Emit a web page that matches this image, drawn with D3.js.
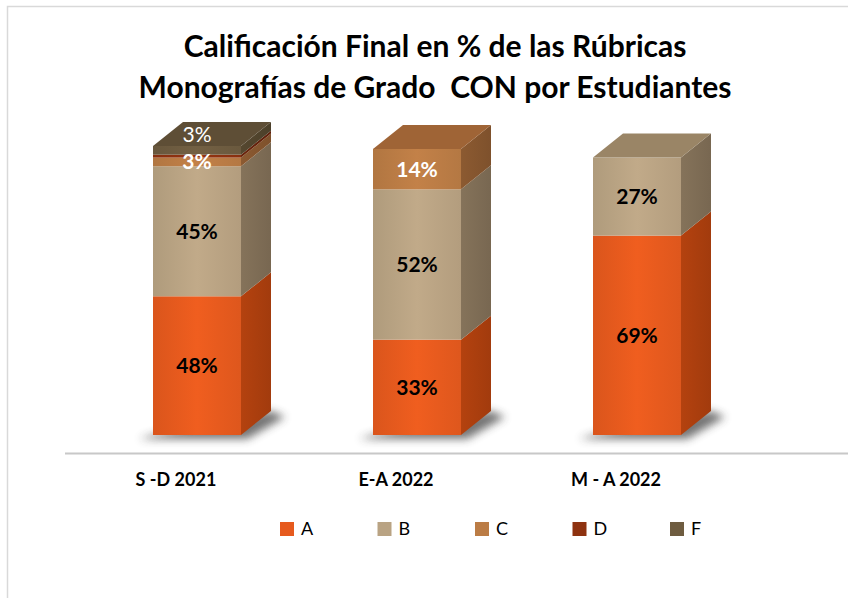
<!DOCTYPE html>
<html>
<head>
<meta charset="utf-8">
<script src="https://cdn.jsdelivr.net/npm/d3@7"></script>
<style>
  body { margin: 0; background: #fff; }
  svg { display: block; font-family: Lato, "Open Sans", sans-serif; }
</style>
</head>
<body>
<svg id="chart" width="848" height="598"></svg>
<script>
// data
var categories = ['S -D 2021', 'E-A 2022', 'M - A 2022'];
var seriesNames = ['A', 'B', 'C', 'D', 'F'];
var valuesA = [48, 33, 69];
var valuesB = [45, 52, 27];
var valuesC = [3, 14, 0];
var valuesD = [1, 0, 0];
var valuesF = [3, 0, 0];
var labelsShown = {A: [1, 1, 1], B: [1, 1, 1], C: [1, 1, 0], D: [0, 0, 0], F: [1, 0, 0]};

var colors = {
    A: {front: '#e65a1e', side: '#b4420f', top: '#c24c16'},
    B: {front: '#b9a383', side: '#85735a', top: '#9a8566'},
    C: {front: '#bb7c45', side: '#8c5a31', top: '#9f6436'},
    D: {front: '#8e3210', side: '#6a240b', top: '#7a2a0d'},
    F: {front: '#6e5c40', side: '#55472f', top: '#5e4e36'}
};
var labelColor = {A: '#000', B: '#000', C: '#fff', D: '#fff', F: '#fff'};
var labelWeight = {A: 'bold', B: 'bold', C: 'bold', D: 'bold', F: 'normal'};

var svg = d3.select('#chart');
var depth = {dx: 30, dy: -24};

var x = d3.scaleBand().domain(categories).range([87, 747])
    .paddingInner(0.6).paddingOuter(0.3);
var y = d3.scaleLinear().domain([0, 100]).range([435, 146]);

var table = categories.map(function (c, i) {
    return {cat: c, A: valuesA[i], B: valuesB[i], C: valuesC[i], D: valuesD[i], F: valuesF[i]};
});
var stacked = d3.stack().keys(seriesNames)(table);

// chart border (runs off the right and bottom of the picture)
svg.append('rect')
    .attr('x', 7.5).attr('y', 6.5)
    .attr('width', 900).attr('height', 700)
    .attr('fill', 'none').attr('stroke', '#d9d9d9').attr('stroke-width', 1.5);

var defs = svg.append('defs');
defs.append('filter').attr('id', 'blur')
    .attr('x', '-30%').attr('y', '-100%').attr('width', '160%').attr('height', '300%')
    .append('feGaussianBlur').attr('stdDeviation', 4);

seriesNames.forEach(function (k) {
    var g = defs.append('linearGradient').attr('id', 'front-' + k)
        .attr('x1', 0).attr('x2', 1).attr('y1', 0).attr('y2', 0);
    g.append('stop').attr('offset', 0).attr('stop-color', d3.color(colors[k].front).darker(0.15));
    g.append('stop').attr('offset', 0.5).attr('stop-color', d3.color(colors[k].front).brighter(0.12));
    g.append('stop').attr('offset', 1).attr('stop-color', d3.color(colors[k].front).darker(0.1));
    var s = defs.append('linearGradient').attr('id', 'side-' + k)
        .attr('x1', 0).attr('x2', 1).attr('y1', 0).attr('y2', 0);
    s.append('stop').attr('offset', 0).attr('stop-color', colors[k].side);
    s.append('stop').attr('offset', 1).attr('stop-color', d3.color(colors[k].side).darker(0.3));
});

// title
var title = svg.append('text')
    .attr('text-anchor', 'middle')
    .style('white-space', 'pre')
    .attr('font-size', 30).attr('font-weight', 'bold').attr('fill', '#000');
title.append('tspan').attr('x', 435).attr('y', 57).text('Calificación Final en % de las Rúbricas');
title.append('tspan').attr('x', 435).attr('y', 98).text('Monografías de Grado  CON por Estudiantes');

// shadows on the floor
svg.append('g').selectAll('path').data(categories).join('path')
    .attr('d', function (c) {
        var x0 = x(c), x1 = x(c) + x.bandwidth(), yb = y(0);
        return 'M' + (x0 - 14) + ',' + (yb + 4) +
            'L' + (x1 + 6) + ',' + (yb + 4) +
            'L' + (x1 + depth.dx + 14) + ',' + (yb + depth.dy + 6) +
            'L' + (x1 + depth.dx) + ',' + (yb + depth.dy) +
            'L' + (x0) + ',' + (yb) + 'Z';
    })
    .attr('fill', '#3a3a3a').attr('opacity', 0.7).attr('filter', 'url(#blur)');

// axis line
svg.append('line')
    .attr('x1', 65).attr('x2', 848).attr('y1', 453.5).attr('y2', 453.5)
    .attr('stroke', '#c8c8c8').attr('stroke-width', 2);

// bars
var bars = svg.append('g');
categories.forEach(function (c, i) {
    var x0 = x(c), x1 = x(c) + x.bandwidth();
    var segs = stacked.filter(function (s) { return s[i][1] > s[i][0]; });
    segs.forEach(function (s, j) {
        var k = s.key;
        var yb = y(s[i][0]), yt = y(s[i][1]);
        bars.append('path')
            .attr('d', 'M' + x1 + ',' + yt + 'L' + (x1 + depth.dx) + ',' + (yt + depth.dy) +
                'L' + (x1 + depth.dx) + ',' + (yb + depth.dy) + 'L' + x1 + ',' + yb + 'Z')
            .attr('fill', 'url(#side-' + k + ')');
        bars.append('rect')
            .attr('x', x0).attr('y', yt)
            .attr('width', x.bandwidth()).attr('height', yb - yt)
            .attr('fill', 'url(#front-' + k + ')');
        if (j === segs.length - 1) {
            bars.append('path')
                .attr('d', 'M' + x0 + ',' + yt + 'L' + (x0 + depth.dx) + ',' + (yt + depth.dy) +
                    'L' + (x1 + depth.dx) + ',' + (yt + depth.dy) + 'L' + x1 + ',' + yt + 'Z')
                .attr('fill', colors[k].top);
        }
    });
});

// data labels
var labels = svg.append('g').attr('text-anchor', 'middle').attr('font-size', 21);
stacked.forEach(function (s) {
    var k = s.key;
    s.forEach(function (d, i) {
        if (!labelsShown[k][i] || d[1] <= d[0]) return;
        var cy = (y(d[0]) + y(d[1])) / 2;
        // the top sliver's label sits on the top face
        if (k === 'F') cy = y(d[1]) + depth.dy / 2;
        labels.append('text')
            .attr('x', x(categories[i]) + x.bandwidth() / 2)
            .attr('y', cy).attr('dy', '0.36em')
            .attr('fill', labelColor[k]).attr('font-weight', labelWeight[k])
            .text((d[1] - d[0]) + '%');
    });
});

// category labels
svg.append('g').selectAll('text').data(categories).join('text')
    .attr('x', function (c) { return x(c) + x.bandwidth() / 2 - 21; })
    .attr('y', 486)
    .attr('text-anchor', 'middle')
    .attr('font-size', 18).attr('font-weight', 'bold')
    .text(function (c) { return c; });

// legend
var legend = svg.append('g').selectAll('g').data(seriesNames).join('g')
    .attr('transform', function (k, i) { return 'translate(' + (280 + i * 97.5) + ',522)'; });
legend.append('rect').attr('width', 14).attr('height', 14)
    .attr('fill', function (k) { return colors[k].front; });
legend.append('text').attr('x', 21).attr('y', 7).attr('dy', '0.36em')
    .attr('font-size', 18).text(function (k) { return k; });
</script>
</body>
</html>
